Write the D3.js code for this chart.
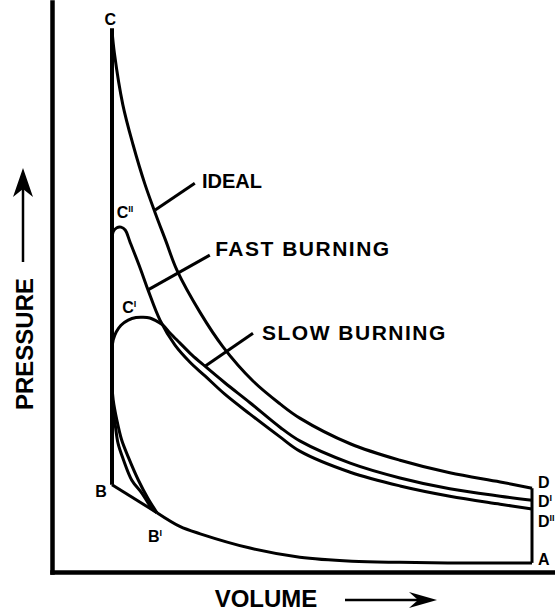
<!DOCTYPE html>
<meta charset="utf-8">
<style>
body { margin: 0; background: #fff; }
svg text { font-family: "Liberation Sans", Arial, sans-serif; font-weight: bold; fill: #000; }
.axis path { stroke: #000; stroke-width: 4.5; stroke-linecap: square; }
.curve { fill: none; stroke: #000; stroke-width: 3; stroke-linejoin: round; }
</style>
<body>
<script src="https://d3js.org/d3.v7.min.js"></script>
<script>
// volume: TDC = 1, BDC = 8 ; pressure in arbitrary units
var compVol  = [1.75, 2.13, 2.47, 3.3, 4.13, 5.0, 5.8, 6.6, 8.0],
    compPres = [10.4, 8.0, 6.7, 4.2, 2.6, 1.9, 1.7, 1.6, 1.6];

var idealVol  = [1.0, 1.04, 1.18, 1.35, 1.55, 1.72, 1.9, 2.08, 2.47, 2.85, 3.35, 3.8, 4.13, 4.97, 5.8, 6.63, 7.47, 8.0],
    idealPres = [95, 91, 82, 75, 68, 63, 58, 53, 45.5, 39.5, 33.5, 29.5, 27, 22.5, 19.6, 17.4, 15.8, 14.7];

var fastVol  = [1.75, 1.6, 1.44, 1.27, 1.16, 1.08, 1.02, 1.0, 1.0, 1.0, 1.02, 1.08, 1.15, 1.22, 1.3, 1.47, 1.6, 1.8, 2.05, 2.3, 2.55, 2.88, 3.3, 3.8, 4.13, 4.97, 5.8, 6.63, 7.47, 8.0],
    fastPres = [10.4, 12.9, 16.1, 20.2, 23.2, 26.7, 30.2, 32.8, 46, 58.3, 59.7, 60.4, 60.5, 60.0, 57.9, 53.3, 49.5, 44.2, 39.8, 36.8, 34.4, 31.2, 27.7, 23.7, 21.2, 17.5, 15.1, 13.3, 11.9, 11.05];

var slowVol  = [1.75, 1.66, 1.5, 1.33, 1.19, 1.1, 1.05, 1.02, 1.0, 1.0, 1.02, 1.07, 1.15, 1.27, 1.4, 1.52, 1.63, 1.73, 1.85, 1.97, 2.13, 2.33, 2.55, 2.88, 3.3, 3.8, 4.13, 4.97, 5.8, 6.63, 7.47, 8.0],
    slowPres = [10.4, 11.2, 13.8, 16.1, 19.7, 22.6, 26.1, 27.9, 29.5, 39, 40.7, 42.1, 43.3, 44.2, 44.65, 44.7, 44.56, 44.1, 43.3, 41.9, 40.2, 38.1, 36.1, 33.2, 29.7, 25.4, 23.0, 19.1, 16.5, 14.6, 13.3, 12.6];

// straight parts of the ideal cycle: B'-B, B-C, D-A
var straightVol  = [[1.75, 1.0], [1.0, 1.0], [8.0, 8.0]],
    straightPres = [[10.4, 15.3], [15.3, 95.4], [14.7, 1.6]];

// state point letters
var pointNames = ["C", "C", "C", "B", "B", "D", "D", "D", "A"],
    pointSups  = ["", "II", "I", "", "I", "", "I", "II", ""],
    pointVol   = [0.97, 1.08, 1.17, 0.72, 1.6, 8.1, 8.1, 8.1, 8.1],
    pointPres  = [96.0, 62.1, 45.4, 13.2, 5.3, 14.7, 11.4, 7.9, 1.2];

// curve names with leader lines
var curveNames = ["IDEAL", "FAST BURNING", "SLOW BURNING"],
    leaderFrom = [[1.72, 63.5], [1.6, 49.5], [2.55, 36.1]],
    leaderTo   = [[2.38, 68.2], [2.63, 55.6], [3.35, 41.9]],
    nameAt     = [[2.5, 67.4], [2.72, 55.4], [3.5, 40.7]];

var width = 555, height = 613;

var x = d3.scaleLinear().domain([0, 8.4]).range([52, 556]),
    y = d3.scaleLinear().domain([0, 100]).range([572, 2]);

var svg = d3.select("body").append("svg")
    .attr("width", width)
    .attr("height", height);

function pts(vs, ps) { return vs.map(function(v, i) { return [v, ps[i]]; }); }

var smooth = d3.line()
    .x(function(d) { return x(d[0]); })
    .y(function(d) { return y(d[1]); })
    .curve(d3.curveCatmullRom.alpha(0.5));
var straight = d3.line()
    .x(function(d) { return x(d[0]); })
    .y(function(d) { return y(d[1]); });

// axes without ticks
svg.append("g")
    .attr("class", "axis")
    .attr("transform", "translate(0," + y(0) + ")")
    .call(d3.axisBottom(x).tickValues([]).tickSizeOuter(0));
svg.append("g")
    .attr("class", "axis")
    .attr("transform", "translate(" + x(0) + ",0)")
    .call(d3.axisLeft(y).tickValues([]).tickSizeOuter(0));

// cycle curves
[[compVol, compPres], [idealVol, idealPres], [fastVol, fastPres], [slowVol, slowPres]].forEach(function(c) {
  svg.append("path")
      .attr("class", "curve")
      .attr("d", smooth(pts(c[0], c[1])));
});
straightVol.forEach(function(vs, i) {
  svg.append("path")
      .attr("class", "curve")
      .style("stroke-width", i == 1 ? 4 : 3)
      .attr("d", straight(pts(vs, straightPres[i])));
});

// leaders + names
curveNames.forEach(function(n, i) {
  svg.append("line")
      .attr("x1", x(leaderFrom[i][0])).attr("y1", y(leaderFrom[i][1]))
      .attr("x2", x(leaderTo[i][0])).attr("y2", y(leaderTo[i][1]))
      .attr("stroke", "#000").attr("stroke-width", 3);
  svg.append("text")
      .attr("x", x(nameAt[i][0])).attr("y", y(nameAt[i][1]))
      .style("font-size", i == 0 ? "20px" : "21px")
      .style("letter-spacing", i == 0 ? "0px" : "1.5px")
      .text(n);
});

// point letters
pointNames.forEach(function(n, i) {
  var t = svg.append("text")
      .attr("x", x(pointVol[i])).attr("y", y(pointPres[i]))
      .attr("text-anchor", i == 0 ? "middle" : "start")
      .style("font-size", "16px");
  t.append("tspan").text(n);
  if (pointSups[i]) {
    t.append("tspan")
        .attr("dy", -6)
        .style("font-size", "9px")
        .text(pointSups[i]);
  }
});

// axis titles with arrows
svg.append("text")
    .attr("transform", "translate(33,344) rotate(-90)")
    .attr("text-anchor", "middle")
    .style("font-size", "24px")
    .text("PRESSURE");
svg.append("line")
    .attr("x1", 23).attr("y1", 262).attr("x2", 23).attr("y2", 185)
    .attr("stroke", "#000").attr("stroke-width", 2.5);
svg.append("path")
    .attr("d", "M23,168L33,197L23,189L13,197Z")
    .attr("fill", "#000");

svg.append("text")
    .attr("x", 266).attr("y", 607)
    .attr("text-anchor", "middle")
    .style("font-size", "24px")
    .text("VOLUME");
svg.append("line")
    .attr("x1", 345).attr("y1", 600).attr("x2", 420).attr("y2", 600)
    .attr("stroke", "#000").attr("stroke-width", 2.5);
svg.append("path")
    .attr("d", "M437,600L409,592L418,600L409,608Z")
    .attr("fill", "#000");
</script>
